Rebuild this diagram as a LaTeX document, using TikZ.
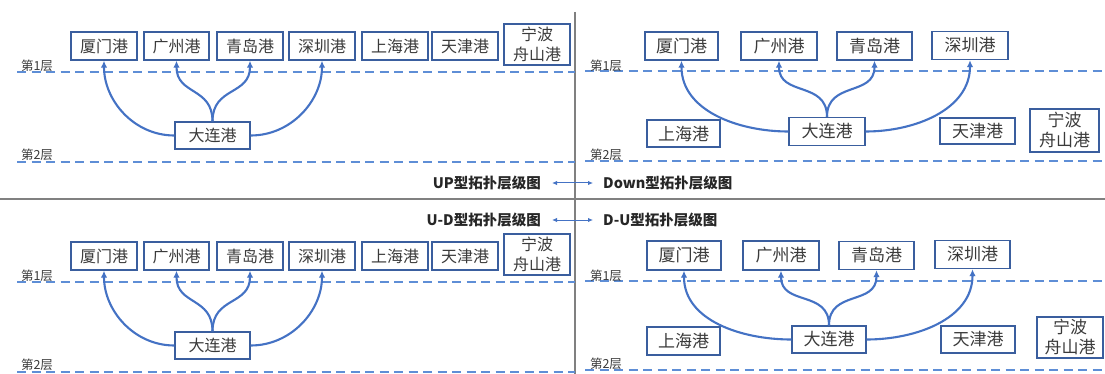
\documentclass[tikz,border=0pt]{standalone}
\usepackage{fontspec}
\setmainfont{Noto Sans CJK SC}
\usetikzlibrary{arrows.meta}
\definecolor{boxblue}{HTML}{3A5E9E}
\definecolor{linkblue}{HTML}{4472C4}
\definecolor{dashblue}{HTML}{5E8ED6}
\definecolor{txtgray}{HTML}{3A3A3A}
\definecolor{divgray}{HTML}{808080}
\tikzset{
  portbox/.style={draw=boxblue, line width=1.4pt, text=txtgray, inner sep=0pt, align=center, font=\fontsize{16}{20}\selectfont},
  portboxR/.style={portbox, font=\fontsize{17}{20}\selectfont},
  conn/.style={draw=linkblue, line width=2.1pt, -{Latex[length=7pt,width=6.5pt]}},
  sconn/.style={conn, looseness=1.25},
  layerline/.style={draw=dashblue, line width=1.5pt, dash pattern=on 9pt off 5.5pt},
  layerlabel/.style={text=txtgray, inner sep=0pt, font=\fontsize{12.5}{14}\selectfont},
  titletext/.style={inner sep=0pt, text=black!85, font=\fontsize{14.5}{16}\bfseries\selectfont},
  divider/.style={draw=divgray, line width=1.5pt},
  twoway/.style={draw=linkblue, line width=1pt, {Latex[length=5pt,width=4.5pt]}-{Latex[length=5pt,width=4.5pt]}}
}
\begin{document}
\begin{tikzpicture}[x=1pt,y=1pt]
\useasboundingbox (0,0) rectangle (1105,-374);
% dividers
\draw[divider] (575,-12) -- (575,-374);
\draw[divider] (0,-199) -- (1105,-199);

% ===== Top-left: UP =====
\draw[layerline] (17,-72) -- (575,-72);
\draw[layerline] (17,-162) -- (575,-162);
\node[layerlabel] (tl1) at (37,-66) {第1层};
\node[layerlabel] (tl2) at (37,-155) {第2层};
\node[portbox, minimum width=66pt, minimum height=28pt] (tlxm) at (104,-46) {厦门港};
\node[portbox, minimum width=65pt, minimum height=28pt] (tlgz) at (176.5,-46) {广州港};
\node[portbox, minimum width=66pt, minimum height=28pt] (tlqd) at (250,-46) {青岛港};
\node[portbox, minimum width=66pt, minimum height=28pt] (tlsz) at (322,-46) {深圳港};
\node[portbox, minimum width=66pt, minimum height=28pt] (tlsh) at (395,-46) {上海港};
\node[portbox, minimum width=66pt, minimum height=28pt] (tltj) at (465,-46) {天津港};
\node[portbox, minimum width=66pt, minimum height=41pt] (tlnb) at (537,-44.5) {宁波\\舟山港};
\node[portbox, minimum width=75pt, minimum height=27pt] (tldl) at (212.5,-135.5) {大连港};
\draw[conn] (tldl.west) to[out=180,in=-90] (tlxm.south);
\draw[sconn] (tldl.north) to[out=90,in=-90] (tlgz.south);
\draw[sconn] (tldl.north) to[out=90,in=-90] (tlqd.south);
\draw[conn] (tldl.east) to[out=0,in=-90] (tlsz.south);

% ===== Top-right: Down =====
\draw[layerline] (585,-71) -- (1105,-71);
\draw[layerline] (585,-161) -- (1105,-161);
\node[layerlabel] (tr1) at (606,-66) {第1层};
\node[layerlabel] (tr2) at (606,-155) {第2层};
\node[portboxR, minimum width=73pt, minimum height=28pt] (trxm) at (681.5,-46) {厦门港};
\node[portboxR, minimum width=76pt, minimum height=28pt] (trgz) at (779,-46) {广州港};
\node[portboxR, minimum width=75pt, minimum height=28pt] (trqd) at (874.5,-46) {青岛港};
\node[portboxR, minimum width=76pt, minimum height=28pt] (trsz) at (970,-45.5) {深圳港};
\node[portboxR, minimum width=73pt, minimum height=27pt] (trsh) at (683.5,-133.5) {上海港};
\node[portboxR, minimum width=76pt, minimum height=28pt] (trdl) at (827,-131.5) {大连港};
\node[portboxR, minimum width=75pt, minimum height=26pt] (trtj) at (977.5,-131) {天津港};
\node[portboxR, minimum width=69pt, minimum height=43pt] (trnb) at (1064.5,-130.5) {宁波\\舟山港};
\draw[conn] (trdl.west) to[out=180,in=-90] (trxm.south);
\draw[sconn] (trdl.north) to[out=90,in=-90] (trgz.south);
\draw[sconn] (trdl.north) to[out=90,in=-90] (trqd.south);
\draw[conn] (trdl.east) to[out=0,in=-90] (trsz.south);

% ===== Titles =====
\node[titletext, anchor=east] (tUP) at (541,-183) {UP型拓扑层级图};
\node[titletext, anchor=west] (tDown) at (603,-183) {Down型拓扑层级图};
\draw[twoway, shorten <=11pt, shorten >=10pt] (tUP.east) -- (tDown.west);
\node[titletext, anchor=east] (tUD) at (541,-220) {U-D型拓扑层级图};
\node[titletext, anchor=west] (tDU) at (603,-220) {D-U型拓扑层级图};
\draw[twoway, shorten <=11pt, shorten >=10pt] (tUD.east) -- (tDU.west);

% ===== Bottom-left: U-D =====
\draw[layerline] (17,-282) -- (575,-282);
\draw[layerline] (17,-372) -- (575,-372);
\node[layerlabel] (bl1) at (37,-276) {第1层};
\node[layerlabel] (bl2) at (37,-365) {第2层};
\node[portbox, minimum width=66pt, minimum height=28pt] (blxm) at (104,-256) {厦门港};
\node[portbox, minimum width=65pt, minimum height=28pt] (blgz) at (176.5,-256) {广州港};
\node[portbox, minimum width=66pt, minimum height=28pt] (blqd) at (250,-256) {青岛港};
\node[portbox, minimum width=66pt, minimum height=28pt] (blsz) at (322,-256) {深圳港};
\node[portbox, minimum width=66pt, minimum height=28pt] (blsh) at (395,-256) {上海港};
\node[portbox, minimum width=66pt, minimum height=28pt] (bltj) at (465,-256) {天津港};
\node[portbox, minimum width=66pt, minimum height=41pt] (blnb) at (537,-254.5) {宁波\\舟山港};
\node[portbox, minimum width=75pt, minimum height=27pt] (bldl) at (212.5,-345.5) {大连港};
\draw[conn] (bldl.west) to[out=180,in=-90] (blxm.south);
\draw[sconn] (bldl.north) to[out=90,in=-90] (blgz.south);
\draw[sconn] (bldl.north) to[out=90,in=-90] (blqd.south);
\draw[conn] (bldl.east) to[out=0,in=-90] (blsz.south);

% ===== Bottom-right: D-U =====
\draw[layerline] (585,-281) -- (1105,-281);
\draw[layerline] (585,-370) -- (1105,-370);
\node[layerlabel] (br1) at (606,-276) {第1层};
\node[layerlabel] (br2) at (606,-364) {第2层};
\node[portboxR, minimum width=74pt, minimum height=29pt] (brxm) at (684,-255.5) {厦门港};
\node[portboxR, minimum width=76pt, minimum height=29pt] (brgz) at (781,-255.5) {广州港};
\node[portboxR, minimum width=75pt, minimum height=28pt] (brqd) at (876.5,-255.5) {青岛港};
\node[portboxR, minimum width=75pt, minimum height=28pt] (brsz) at (972.5,-254.5) {深圳港};
\node[portboxR, minimum width=73pt, minimum height=28pt] (brsh) at (683.5,-341) {上海港};
\node[portboxR, minimum width=74pt, minimum height=27pt] (brdl) at (829,-339.5) {大连港};
\node[portboxR, minimum width=74pt, minimum height=27pt] (brtj) at (978,-339.5) {天津港};
\node[portboxR, minimum width=66pt, minimum height=41pt] (brnb) at (1070,-337.5) {宁波\\舟山港};
\draw[conn] (brdl.west) to[out=180,in=-90] (brxm.south);
\draw[sconn] (brdl.north) to[out=90,in=-90] (brgz.south);
\draw[sconn] (brdl.north) to[out=90,in=-90] (brqd.south);
\draw[conn] (brdl.east) to[out=0,in=-90] (brsz.south);
\end{tikzpicture}
\end{document}
